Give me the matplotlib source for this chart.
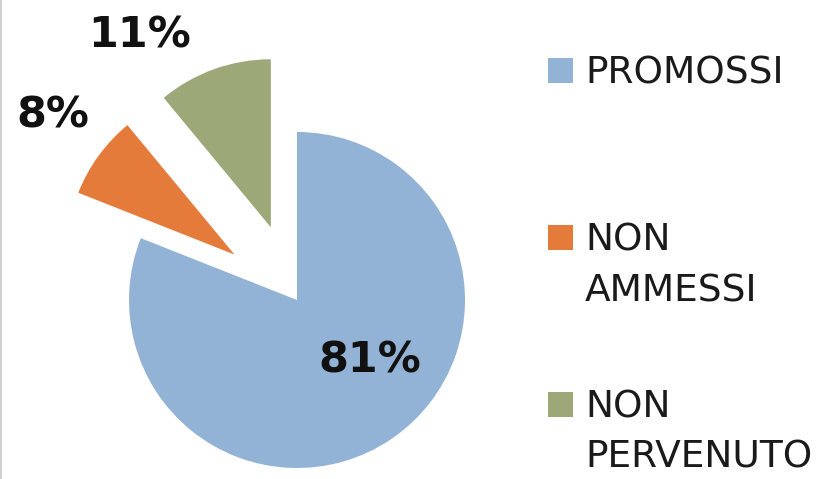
import numpy as np
import matplotlib.pyplot as plt
from matplotlib.patches import Rectangle

categories = ['PROMOSSI', 'NON\nAMMESSI', 'NON\nPERVENUTO']
values = [81, 8, 11]
colors = ['#93B3D6', '#E47B3A', '#9DA878']
explode = [0.0, 0.46, 0.46]

W, H = 824, 479
fig = plt.figure(figsize=(W / 100, H / 100), dpi=100)
ax = fig.add_axes([0, 0, 1, 1])

wedges, _ = ax.pie(values, colors=colors, explode=explode, startangle=90,
                   counterclock=False, radius=1.0,
                   wedgeprops=dict(linewidth=0))

# pie centre at (297, 300) px from top-left, radius 168 px
R = 168.0
cx, cy = 297, 300
ax.set_xlim(-cx / R, (W - cx) / R)
ax.set_ylim(-(H - cy) / R, cy / R)
ax.set_aspect('auto')
ax.axis('off')

# percentage labels, placed along each slice's mid angle
label_dist = [0.56, 1.82, 1.83]
label_turn = [16, -1, 11]
for w, v, d, t in zip(wedges, values, label_dist, label_turn):
    ang = np.deg2rad((w.theta1 + w.theta2) / 2 + t)
    ax.text(d * np.cos(ang), d * np.sin(ang), f'{v}%', ha='center', va='center',
            fontsize=31, fontweight='bold', color='#111111')

# legend: square + label lines
px = lambda x, y: (x / W, 1 - y / H)
base_y = [83, 250, 417]
for lab, col, by in zip(categories, colors, base_y):
    x0, y0 = px(548, by)
    fig.patches.append(Rectangle((x0, y0), 25 / W, 25 / H, transform=fig.transFigure,
                                 facecolor=col, edgecolor='none'))
    for k, line in enumerate(lab.split('\n')):
        tx, ty = px(585, by + 51 * k)
        fig.text(tx, ty, line, ha='left', va='baseline', fontsize=27,
                 color='#1a1a1a')

# faint frame edge on the left
fig.add_artist(plt.Line2D([0.5 / W, 0.5 / W], [0, 1], transform=fig.transFigure,
                          color='#d0d0d0', linewidth=1.5))

fig.savefig('out.png', dpi=100)
